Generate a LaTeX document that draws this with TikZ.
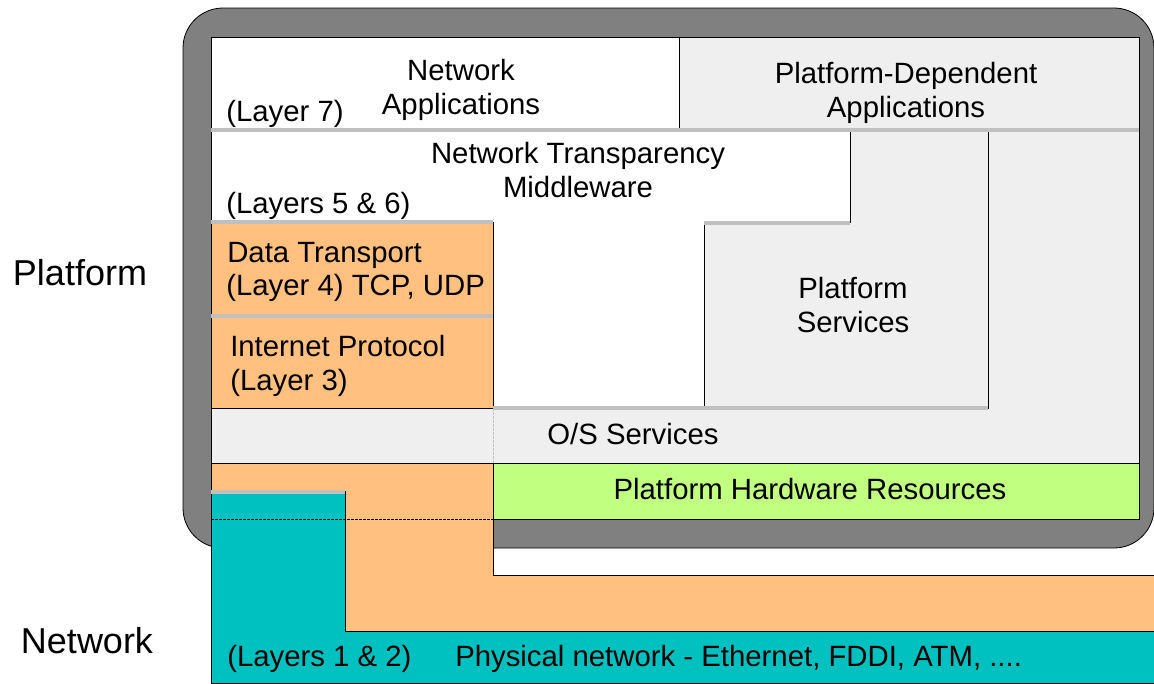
\documentclass[tikz,border=0pt]{standalone}
\usepackage{fontspec}
\setmainfont{Liberation Sans}
\definecolor{framegray}{HTML}{808080}
\definecolor{panel}{HTML}{EFEFEF}
\definecolor{sepgray}{HTML}{C0C0C0}
\definecolor{netorange}{HTML}{FFC080}
\definecolor{hwgreen}{HTML}{C0FF80}
\definecolor{linkteal}{HTML}{00C0C0}
\begin{document}
\begin{tikzpicture}[x=0.75pt,y=-0.75pt,
  edge/.style={draw=black,line width=0.6pt},
  sep/.style={draw=sepgray,line width=3pt},
  lbl/.style={font=\fontsize{22}{24}\selectfont,inner sep=0pt},
  side/.style={font=\fontsize{27}{30}\selectfont,inner sep=0pt}]
\useasboundingbox (0,0) rectangle (1154,683);

% platform enclosure
\filldraw[fill=framegray,edge,rounded corners=30pt] (183,8) rectangle (1154,548);
\filldraw[fill=panel,edge] (211,37) rectangle (1139,519);

% application layer
\filldraw[fill=white,edge] (211,37) rectangle (679,130);
\filldraw[fill=panel,edge] (679,37) rectangle (1139,130);

% middleware and platform services
\filldraw[fill=white,edge] (211,130) -- (850,130) -- (850,222) -- (704,222)
  -- (704,408) -- (493,408) -- (493,222) -- (211,222) -- cycle;
\filldraw[fill=panel,edge] (850,130) -- (988,130) -- (988,408) -- (704,408)
  -- (704,222) -- (850,222) -- cycle;

% transport and internet protocol
\filldraw[fill=netorange,edge] (211,222) rectangle (493,316);
\filldraw[fill=netorange,edge] (211,316) rectangle (493,408);

% O/S row and hardware
\draw[sepgray,line width=0.6pt,dash pattern=on 2pt off 1pt] (493,408) -- (493,463);
\filldraw[fill=hwgreen,edge] (493,463) rectangle (1139,519);

% network layers drawn over the enclosure
\filldraw[fill=netorange,edge] (211,463) -- (493,463) -- (493,575) -- (1154,575)
  -- (1154,631) -- (345,631) -- (345,491) -- (211,491) -- cycle;
\filldraw[fill=linkteal,edge] (211,491) -- (345,491) -- (345,631) -- (1154,631)
  -- (1154,683) -- (211,683) -- cycle;
\draw[black,line width=0.5pt,dash pattern=on 2pt off 1pt] (211,519) -- (493,519);

% layer separators
\draw[sep] (211,129.5) -- (1139,129.5);
\draw[sep] (211,222) -- (493,222);
\draw[sep] (704,223) -- (850,223);
\draw[sep] (211,316) -- (493,316);
\draw[sep] (493,408) -- (988,408);
\draw[sep] (211,491.5) -- (345,491.5);

% labels
\node[lbl,anchor=base] (na1) at (461,80) {Network};
\node[lbl,anchor=base] (na2) at (461,114) {Applications};
\node[lbl,anchor=base west] (l7) at (226,121) {(Layer 7)};
\node[lbl,anchor=base] (pd1) at (906,83) {Platform-Dependent};
\node[lbl,anchor=base] (pd2) at (906,117) {Applications};
\node[lbl,anchor=base] (mw1) at (578,163) {Network Transparency};
\node[lbl,anchor=base] (mw2) at (578,197) {Middleware};
\node[lbl,anchor=base west] (l56) at (226,213) {(Layers 5 \& 6)};
\node[lbl,anchor=base west] (dt1) at (227,262) {Data Transport};
\node[lbl,anchor=base west] (dt2) at (226,295) {(Layer 4) TCP, UDP};
\node[lbl,anchor=base west] (ip1) at (230,356) {Internet Protocol};
\node[lbl,anchor=base west] (ip2) at (230,390) {(Layer 3)};
\node[lbl,anchor=base] (ps1) at (853,298) {Platform};
\node[lbl,anchor=base] (ps2) at (853,332) {Services};
\node[lbl,anchor=base] (os) at (633,444) {O/S Services};
\node[lbl,anchor=base] (hw) at (810,499) {Platform Hardware Resources};
\node[lbl,anchor=base west] (l12) at (227,666) {(Layers 1 \& 2)};
\node[lbl,anchor=base west] (phy) at (455,666) {Physical network - Ethernet, FDDI, ATM, ....};
\node[side,anchor=base] (plat) at (80,285) {Platform};
\node[side,anchor=base] (net) at (87,653) {Network};
\end{tikzpicture}
\end{document}
